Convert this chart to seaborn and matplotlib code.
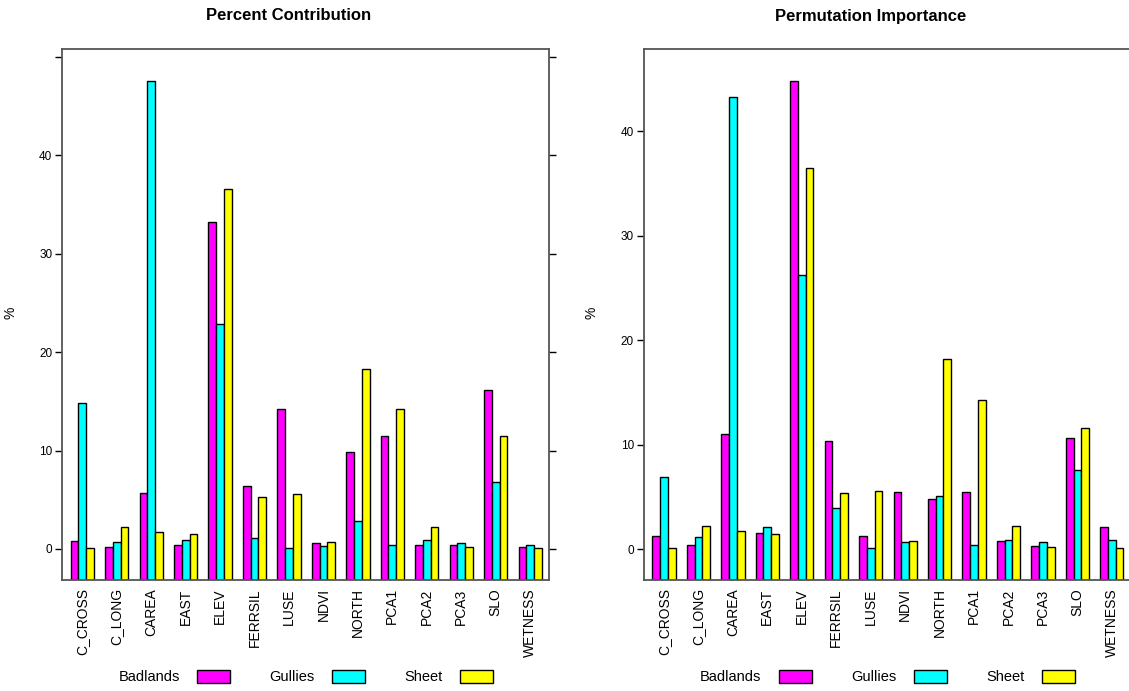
import numpy as np
import pandas as pd
import matplotlib
matplotlib.use("Agg")
import matplotlib.pyplot as plt
from matplotlib.patches import Patch
import seaborn as sns

# predictors on the x axis
variables = ["C_CROSS", "C_LONG", "CAREA", "EAST", "ELEV", "FERRSIL", "LUSE",
             "NDVI", "NORTH", "PCA1", "PCA2", "PCA3", "SLO", "WETNESS"]
classes = ["Badlands", "Gullies", "Sheet"]
class_colors = ["#FF00FF", "#00FFFF", "#FFFF00"]

# percent contribution (%)
contrib_badlands = [0.81, 0.24, 5.64, 0.44, 33.26, 6.35, 14.22, 0.57, 9.86, 11.52, 0.44, 0.44, 16.2, 0.24]
contrib_gullies = [14.83, 0.71, 47.5, 0.91, 22.87, 1.15, 0.07, 0.34, 2.8, 0.44, 0.91, 0.57, 6.79, 0.44]
contrib_sheet = [0.1, 2.23, 1.76, 1.52, 36.55, 5.3, 5.54, 0.71, 18.24, 14.22, 2.23, 0.24, 11.52, 0.1]

# permutation importance (%)
perm_badlands = [1.31, 0.42, 11.02, 1.57, 44.8, 10.35, 1.31, 5.43, 4.76, 5.43, 0.77, 0.32, 10.67, 2.11]
perm_gullies = [6.9, 1.21, 43.3, 2.11, 26.3, 3.99, 0.1, 0.67, 5.11, 0.42, 0.86, 0.67, 7.54, 0.86]
perm_sheet = [0.1, 2.2, 1.76, 1.44, 36.55, 5.34, 5.56, 0.77, 18.24, 14.25, 2.2, 0.22, 11.57, 0.1]

sns.set_style("ticks")
plt.rcParams["font.family"] = ["Liberation Sans", "DejaVu Sans"]
plt.rcParams["text.color"] = "black"
plt.rcParams["axes.labelcolor"] = "black"
plt.rcParams["xtick.color"] = "black"
plt.rcParams["ytick.color"] = "black"

W, H = 1129, 691
FRAME = "#555555"


def long_table(badlands, gullies, sheet):
  rows = []
  for cls, vals in zip(classes, [badlands, gullies, sheet]):
    for var, v in zip(variables, vals):
      rows.append((var, cls, v))
  return pd.DataFrame(rows, columns=["variable", "class", "value"])


def draw_panel(ax, df, ylim, yticks, ylabels, right_ticks):
  sns.barplot(data=df, x="variable", y="value", hue="class", order=variables,
              hue_order=classes, palette=class_colors, saturation=1,
              width=0.674, edgecolor="black", linewidth=1.0, errorbar=None,
              legend=False, ax=ax)
  # lattice style: bars rise from the bottom of the panel, not from zero
  for p in ax.patches:
    top = p.get_y() + p.get_height()
    p.set_y(ylim[0])
    p.set_height(top - ylim[0])
  ax.set_xlim(-0.58, 13.555)
  ax.set_ylim(*ylim)
  ax.set_yticks(yticks)
  ax.set_yticklabels(ylabels)
  ax.set_xlabel("")
  ax.set_ylabel("%", fontsize=10)
  ax.yaxis.set_label_coords(-0.093, 0.503)
  for s in ax.spines.values():
    s.set_visible(True)
    s.set_color(FRAME)
    s.set_linewidth(1.3)
  ax.tick_params(axis="x", length=0, pad=6, labelsize=10, labelrotation=90)
  ax.tick_params(axis="y", length=5.2, width=1.0, pad=2, labelsize=8.5,
                 right=right_ticks, labelright=False)
  handles = [Patch(facecolor=c, edgecolor="black", linewidth=1.0, label=l)
             for l, c in zip(classes, class_colors)]
  ax.legend(handles=handles, loc="center", bbox_to_anchor=(0.5, -0.183),
            ncol=3, frameon=False, markerfirst=False, fontsize=10.5,
            handlelength=2.26, handleheight=0.96, handletextpad=1.2,
            columnspacing=2.7)


fig = plt.figure(figsize=(W / 100, H / 100), dpi=100)
ax_w = 487 / W
ax_b = 1 - 580 / H
ax_h = 531 / H
ax1 = fig.add_axes([62.3 / W, ax_b, ax_w, ax_h])
ax2 = fig.add_axes([644 / W, ax_b, ax_w, ax_h])

draw_panel(ax1, long_table(contrib_badlands, contrib_gullies, contrib_sheet),
           (-3.15, 50.8), [0, 10, 20, 30, 40, 50], ["0", "10", "20", "30", "40", ""], True)
draw_panel(ax2, long_table(perm_badlands, perm_gullies, perm_sheet),
           (-2.95, 47.9), [0, 10, 20, 30, 40], ["0", "10", "20", "30", "40"], True)

fig.text(289 / W, 1 - 16 / H, "Percent Contribution", ha="center", va="center",
         fontsize=12, fontweight="bold")
fig.text(871 / W, 1 - 16 / H, "Permutation Importance", ha="center", va="center",
         fontsize=12, fontweight="bold")

fig.savefig("out.png", dpi=100, facecolor="white")
